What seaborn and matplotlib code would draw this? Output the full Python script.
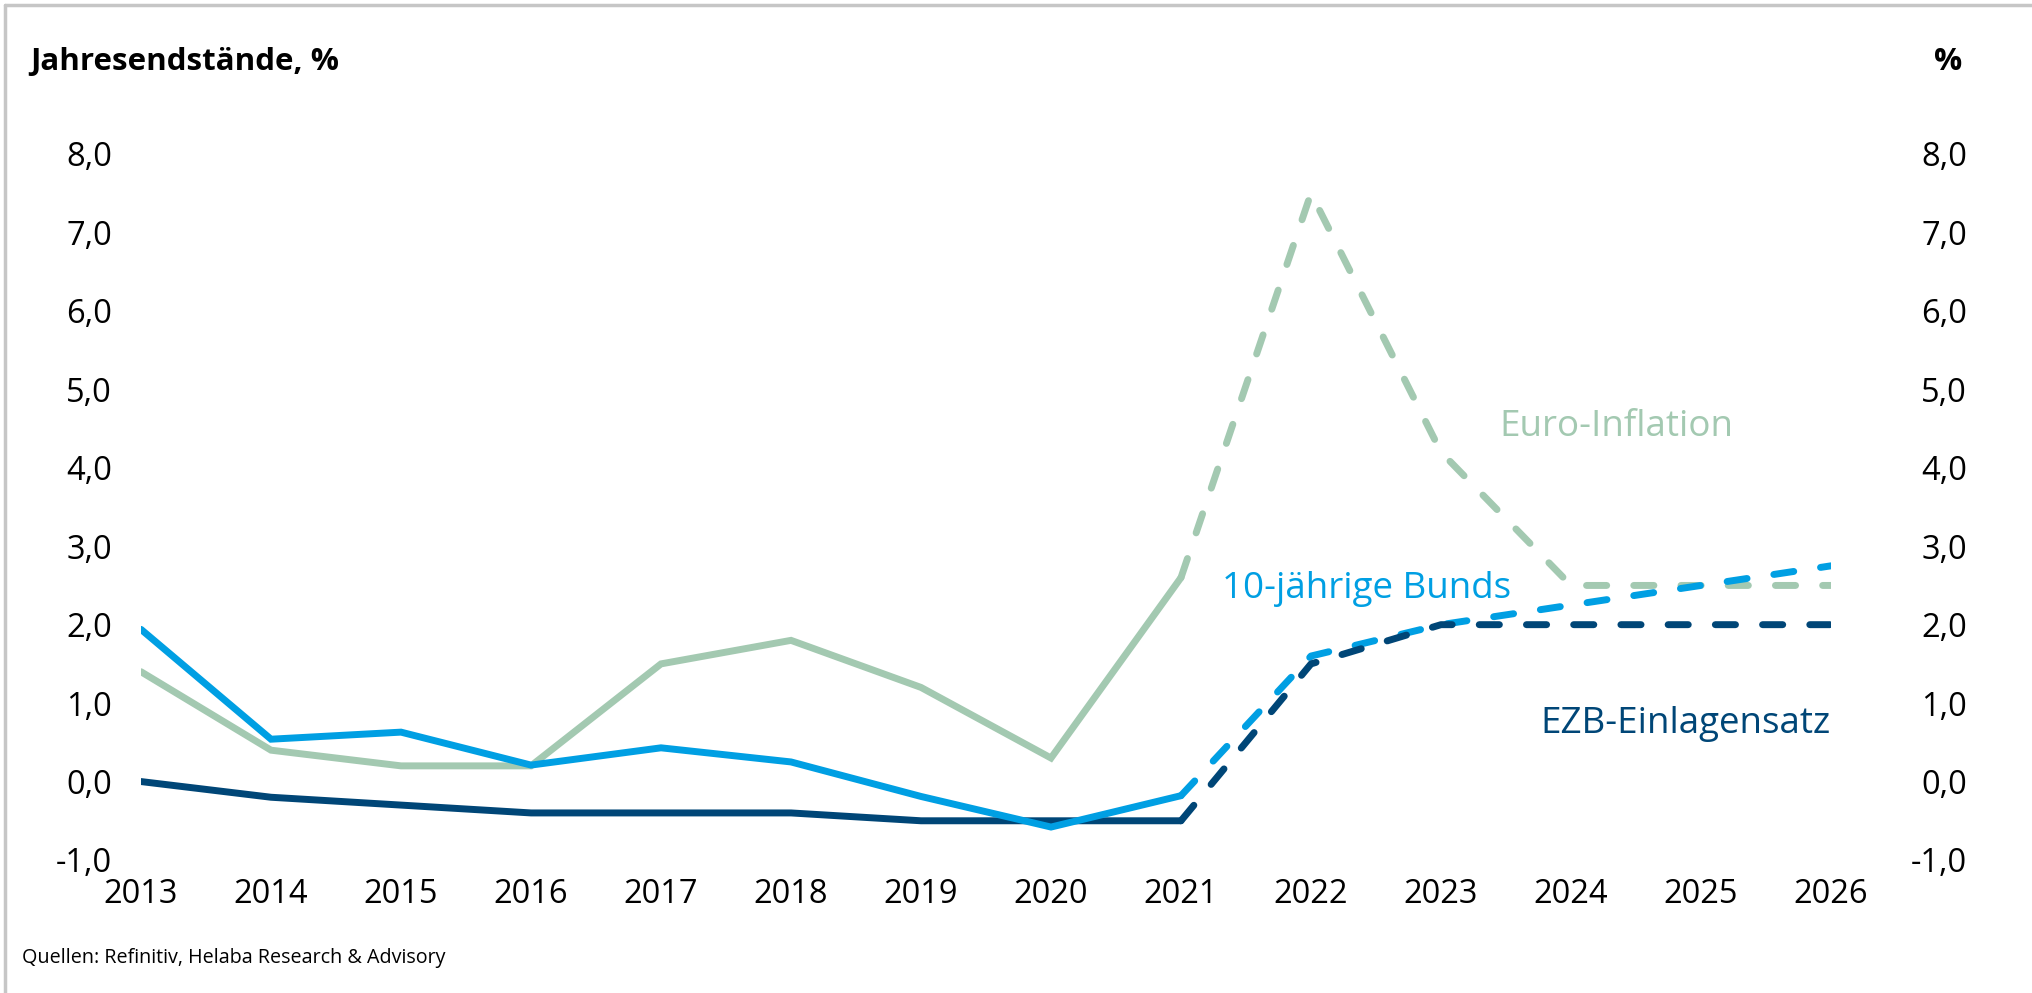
import pandas as pd
import numpy as np
import matplotlib.pyplot as plt
import seaborn as sns
from matplotlib.lines import Line2D
from matplotlib.ticker import FuncFormatter

# Data
years = list(range(2013, 2027))
ezb_rate = [0.0, -0.2, -0.3, -0.4, -0.4, -0.4, -0.5, -0.5, -0.5, 1.5, 2.0, 2.0, 2.0, 2.0]
bunds_10y = [1.94, 0.54, 0.63, 0.21, 0.43, 0.25, -0.19, -0.58, -0.18, 1.6, 2.0, 2.25, 2.5, 2.75]
euro_inflation = [1.4, 0.4, 0.2, 0.2, 1.5, 1.8, 1.2, 0.3, 2.6, 7.5, 4.2, 2.5, 2.5, 2.5]
last_actual = 2021

series_names = ["Euro-Inflation", "10-jährige Bunds", "EZB-Einlagensatz"]
y_ticks = [-1, 0, 1, 2, 3, 4, 5, 6, 7, 8]

colors = {
    "Euro-Inflation": "#a3c9b1",
    "10-jährige Bunds": "#009fe3",
    "EZB-Einlagensatz": "#004677",
}

sns.set_style("white")
plt.rcParams['font.family'] = ['Open Sans', 'DejaVu Sans']
plt.rcParams['text.color'] = '#000000'

df = pd.DataFrame({
    "Jahr": years * 3,
    "Wert": euro_inflation + bunds_10y + ezb_rate,
    "Reihe": [n for n in series_names for _ in years],
})
hist = df[df["Jahr"] <= last_actual]
fcst = df[df["Jahr"] >= last_actual]

fig = plt.figure(figsize=(20.32, 9.93), dpi=100)
ax = fig.add_axes([141 / 2032, 133 / 993, 1690 / 2032, 706 / 993])

# solid part (actual values)
draw_order = ["Euro-Inflation", "EZB-Einlagensatz", "10-jährige Bunds"]
for i, name in enumerate(draw_order):
    sns.lineplot(data=hist[hist["Reihe"] == name], x="Jahr", y="Wert",
                 color=colors[name], linewidth=5, ax=ax, zorder=2 + i,
                 solid_joinstyle="miter")

# dashed part (forecast)
for i, name in enumerate(["Euro-Inflation", "10-jährige Bunds", "EZB-Einlagensatz"]):
    sub = fcst[fcst["Reihe"] == name]
    ax.plot(sub["Jahr"], sub["Wert"], color=colors[name], linewidth=5,
            dashes=(2.9, 3.9), dash_capstyle="round", zorder=6 + i)

ax.set_xlim(2013, 2026)
ax.set_ylim(-1, 8)
ax.set_xticks(years)
ax.set_xticklabels([str(y) for y in years])
ax.set_yticks(y_ticks)
fmt = FuncFormatter(lambda v, p: f"{v:.1f}".replace(".", ","))
ax.yaxis.set_major_formatter(fmt)
ax.set_xlabel("")
ax.set_ylabel("")
ax.tick_params(axis="both", length=0, labelsize=23.5, colors="#000000")
ax.tick_params(axis="x", pad=13)
ax.tick_params(axis="y", pad=21)
for s in ax.spines.values():
    s.set_visible(False)

ax2 = ax.twinx()
ax2.set_ylim(-1, 8)
ax2.set_yticks(y_ticks)
ax2.yaxis.set_major_formatter(fmt)
ax2.tick_params(axis="y", length=0, labelsize=23.5, pad=98, colors="#000000")
for lbl in ax2.get_yticklabels():
    lbl.set_horizontalalignment("right")
for s in ax2.spines.values():
    s.set_visible(False)
ax2.grid(False)

# Series labels
ax.text(2024.35, 4.52, "Euro-Inflation", color=colors["Euro-Inflation"],
        fontsize=26.5, ha="center", va="center")
ax.text(2022.43, 2.45, "10-jährige Bunds", color=colors["10-jährige Bunds"],
        fontsize=26.5, ha="center", va="center")
ax.text(2026, 0.74, "EZB-Einlagensatz", color=colors["EZB-Einlagensatz"],
        fontsize=26.5, ha="right", va="center")

# Titles and source
fig.text(30 / 2032, 1 - 62 / 993, "Jahresendstände, %", fontsize=22.5,
         fontweight="bold", ha="left", va="center", color="#000000")
fig.text(1948 / 2032, 1 - 62 / 993, "%", fontsize=22.5, fontweight="bold",
         ha="center", va="center", color="#000000")
fig.text(22 / 2032, 1 - 958 / 993, "Quellen: Refinitiv, Helaba Research & Advisory",
         fontsize=14.2, ha="left", va="center", color="#000000")

# Frame lines (left and top)
fig.add_artist(Line2D([5 / 2032, 5 / 2032], [0, 1 - 5 / 993], color="#c6c6c6",
                      linewidth=2.5, transform=fig.transFigure))
fig.add_artist(Line2D([5 / 2032, 1], [1 - 5 / 993, 1 - 5 / 993], color="#c6c6c6",
                      linewidth=2.5, transform=fig.transFigure))

fig.savefig("out.png", dpi=100)
